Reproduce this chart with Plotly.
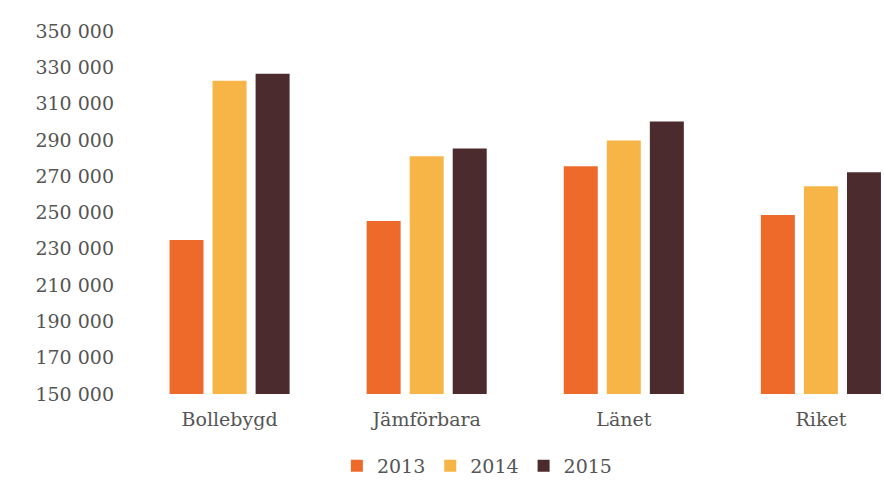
import plotly.graph_objects as go

categories = ["Bollebygd", "Jämförbara", "Länet", "Riket"]
years = ["2013", "2014", "2015"]
values_2013 = [234900, 245300, 275500, 248600]
values_2014 = [322600, 281000, 289700, 264500]
values_2015 = [326400, 285300, 300100, 272200]
tick_vals = [150000, 170000, 190000, 210000, 230000, 250000, 270000, 290000, 310000, 330000, 350000]
tick_text = ["150 000", "170 000", "190 000", "210 000", "230 000", "250 000",
             "270 000", "290 000", "310 000", "330 000", "350 000"]
colors = ["#EE6A2B", "#F7B548", "#4B2B2E"]

series = [values_2013, values_2014, values_2015]

fig = go.Figure()
for name, vals, col in zip(years, series, colors):
    fig.add_trace(go.Bar(x=categories, y=vals, name=name, marker_color=col,
                         marker_line_width=0))

font_family = "DejaVu Serif, Liberation Serif, serif"
txt = "#555555"
fig.update_layout(
    width=884, height=481,
    margin=dict(l=131, r=0, t=31, b=87, autoexpand=False),
    paper_bgcolor="white", plot_bgcolor="white",
    barmode="group", bargap=0.345, bargroupgap=0.21,
    font=dict(family=font_family, color=txt, size=19),
    legend=dict(orientation="h", x=0.46, xanchor="center", y=-0.198, yanchor="middle",
                font=dict(size=19, color=txt), itemwidth=30,
                traceorder="normal"),
    showlegend=True,
)
fig.update_xaxes(range=[-0.5, 3.32], showgrid=False, showline=False, zeroline=False,
                 ticks="", ticklabelstandoff=12, tickfont=dict(size=19, color=txt))
fig.update_yaxes(range=[150000, 350000], tickvals=tick_vals, ticktext=tick_text,
                 showgrid=False, showline=False, zeroline=False, ticks="",
                 ticklabelstandoff=16, tickfont=dict(size=19, color=txt))

fig.write_html("out.html", config={"displayModeBar": False},
               post_script="document.body.style.margin='0';")
